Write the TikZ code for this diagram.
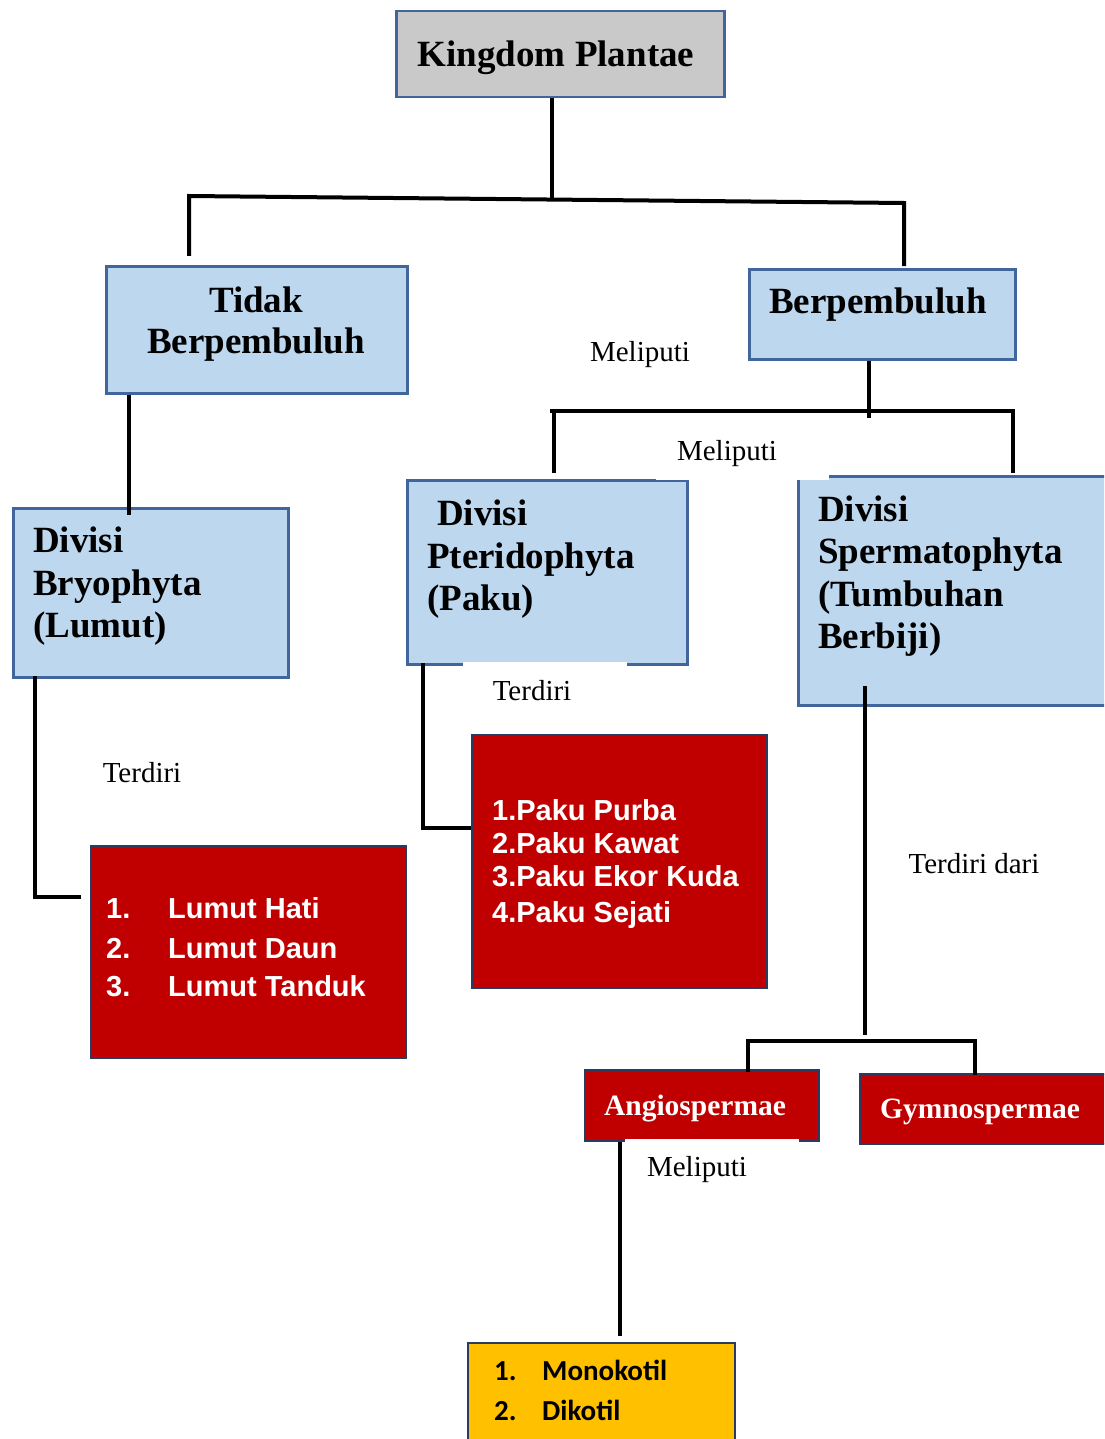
\documentclass[tikz,border=0pt]{standalone}
\usepackage{fontspec}
\setmainfont{Liberation Serif}
\newfontfamily\arialf{Liberation Sans}
\newfontfamily\calibf{Carlito}
\definecolor{bluefill}{HTML}{BDD7EE}
\definecolor{blueline}{HTML}{41669C}
\definecolor{grayfill}{HTML}{C9C9C9}
\definecolor{redfill}{HTML}{C00000}
\definecolor{navyline}{HTML}{2A3B63}
\definecolor{yellowfill}{HTML}{FFC000}
\tikzset{
  graybox/.style={draw=blueline, fill=grayfill, line width=2.5pt, inner sep=0pt, anchor=north west},
  bluebox/.style={draw=blueline, fill=bluefill, line width=2.5pt, inner sep=0pt, anchor=north west},
  redbox/.style={draw=navyline, fill=redfill, line width=1.6pt, inner sep=0pt, anchor=north west},
  yellowbox/.style={draw=navyline, fill=yellowfill, line width=1.6pt, inner sep=0pt, anchor=north west},
  conn/.style={line width=4pt, black},
  ttl/.style={inner sep=0pt, font=\fontsize{37}{41}\selectfont\bfseries},
  lbl/.style={inner sep=0pt, font=\fontsize{29}{33}\selectfont},
  lst/.style={inner sep=0pt, text=white, font=\arialf\fontsize{29}{33}\selectfont\bfseries},
  rtl/.style={inner sep=0pt, text=white, font=\fontsize{29.5}{33}\selectfont\bfseries},
  ylst/.style={inner sep=0pt, font=\calibf\fontsize{29}{33}\selectfont\bfseries},
}
\begin{document}
\begin{tikzpicture}[x=1pt,y=-1pt]
\useasboundingbox (0,0) rectangle (1104,1439);
\clip (0,0) rectangle (1104,1439);
\fill[white] (0,0) rectangle (1104,1439);

% boxes
\node[graybox, minimum width=328pt, minimum height=86pt] (kp) at (395,10) {};
\node[bluebox, minimum width=301pt, minimum height=127pt] (tb) at (105,265) {};
\node[bluebox, minimum width=266pt, minimum height=90pt] (bp) at (748,268) {};
\node[bluebox, minimum width=275pt, minimum height=169pt] (bry) at (12,507) {};
\node[bluebox, minimum width=280pt, minimum height=184pt] (pte) at (406,479) {};
\node[bluebox, minimum width=330pt, minimum height=229pt] (spe) at (797,475) {};
\node[redbox, minimum width=315pt, minimum height=212pt] (lum) at (90,845) {};
\node[redbox, minimum width=295pt, minimum height=253pt] (pak) at (471,734) {};
\node[redbox, minimum width=234pt, minimum height=71pt] (ang) at (584,1069) {};
\node[redbox, minimum width=270pt, minimum height=70pt] (gym) at (859,1073) {};
\node[yellowbox, minimum width=267pt, minimum height=120pt] (mon) at (467,1342) {};

% white patches left by label boxes
\fill[white] (656,430) rectangle (829,479.5);
\fill[white] (463,661.5) rectangle (627,700);
\fill[white] (625,1138.5) rectangle (799,1160);

% connector points
\coordinate (jkM) at (552,198.5);
\coordinate (jkL) at (189,196);
\coordinate (jkR) at (904,203);
\coordinate (tbT) at (189,256);
\coordinate (bpT) at (904,266);
\coordinate (jbM) at (869,418);
\coordinate (jbL) at (550,411);
\coordinate (jbR) at (1015,411);
\coordinate (pteT) at (554,473);
\coordinate (speT) at (1013,473);
\coordinate (bryT) at (129,515);
\coordinate (bryB) at (35,676);
\coordinate (bryC) at (35,897);
\coordinate (lumE) at (81,897);
\coordinate (pteB) at (423,663);
\coordinate (pteC) at (423,828);
\coordinate (speB) at (865,686);
\coordinate (speE) at (865,1035);
\coordinate (jsL) at (746,1041);
\coordinate (jsR) at (977,1041);
\coordinate (angT) at (748,1072);
\coordinate (gymT) at (975,1075);
\coordinate (angB) at (620,1144);
\coordinate (monT) at (620,1336);

% connectors
\draw[conn] (kp.south -| jkM) -- (jkM);
\draw[conn] (tbT) -- (jkL) -- (jkR) -- (bpT);
\draw[conn] (bp.south -| jbM) -- (jbM);
\draw[conn] (jbL) -- (jbR);
\draw[conn] (jbL -| pteT) -- (pteT);
\draw[conn] (jbR -| speT) -- (speT);
\draw[conn] (tb.south -| bryT) -- (bryT);
\draw[conn] (bryB) -- (bryC) -- (lumE);
\draw[conn] (pteB) -- (pteC) -- (pteC -| pak.west);
\draw[conn] (speB) -- (speE);
\draw[conn] (jsL) -- (jsR);
\draw[conn] (jsL -| angT) -- (angT);
\draw[conn] (jsR -| gymT) -- (gymT);
\draw[conn] (ang.south -| angB) -- (monT);

% titles
\node[ttl, anchor=base] (kpt) at (556,67) {Kingdom Plantae};
\node[ttl, anchor=base] (tbt1) at (256,312) {Tidak};
\node[ttl, anchor=base] (tbt2) at (256,353) {Berpembuluh};
\node[ttl, anchor=base] (bpt) at (878,313) {Berpembuluh};
\node[ttl, anchor=base west] (bryt1) at (33,552) {Divisi};
\node[ttl, anchor=base west] (bryt2) at (33,595) {Bryophyta};
\node[ttl, anchor=base west] (bryt3) at (33,637) {(Lumut)};
\node[ttl, anchor=base west] (ptet1) at (437,525) {Divisi};
\node[ttl, anchor=base west] (ptet2) at (427,568) {Pteridophyta};
\node[ttl, anchor=base west] (ptet3) at (427,610) {(Paku)};
\node[ttl, anchor=base west] (spet1) at (818,521) {Divisi};
\node[ttl, anchor=base west] (spet2) at (818,563) {Spermatophyta};
\node[ttl, anchor=base west] (spet3) at (818,606) {(Tumbuhan};
\node[ttl, anchor=base west] (spet4) at (818,648) {Berbiji)};

% lists
\node[lst, anchor=base west] (l1) at (106,918) {\makebox[62pt][l]{1.}Lumut Hati};
\node[lst, anchor=base west] (l2) at (106,958) {\makebox[62pt][l]{2.}Lumut Daun};
\node[lst, anchor=base west] (l3) at (106,996) {\makebox[62pt][l]{3.}Lumut Tanduk};
\node[lst, anchor=base west] (p1) at (492,820) {1.Paku Purba};
\node[lst, anchor=base west] (p2) at (492,853) {2.Paku Kawat};
\node[lst, anchor=base west] (p3) at (492,886) {3.Paku Ekor Kuda};
\node[lst, anchor=base west] (p4) at (492,922) {4.Paku Sejati};
\node[rtl, anchor=base] (angt) at (695,1115) {Angiospermae};
\node[rtl, anchor=base] (gymt) at (980,1118) {Gymnospermae};
\node[ylst, anchor=base west] (m1) at (494,1380) {\makebox[48pt][l]{1.}Monokotil};
\node[ylst, anchor=base west] (m2) at (494,1420) {\makebox[48pt][l]{2.}Dikotil};

% connector labels
\node[lbl, anchor=base] (lab1) at (640,361) {Meliputi};
\node[lbl, anchor=base] (lab2) at (727,460) {Meliputi};
\node[lbl, anchor=base] (lab3) at (532,700) {Terdiri};
\node[lbl, anchor=base] (lab4) at (142,782) {Terdiri};
\node[lbl, anchor=base] (lab5) at (974,873) {Terdiri dari};
\node[lbl, anchor=base] (lab6) at (697,1176) {Meliputi};
\end{tikzpicture}
\end{document}
